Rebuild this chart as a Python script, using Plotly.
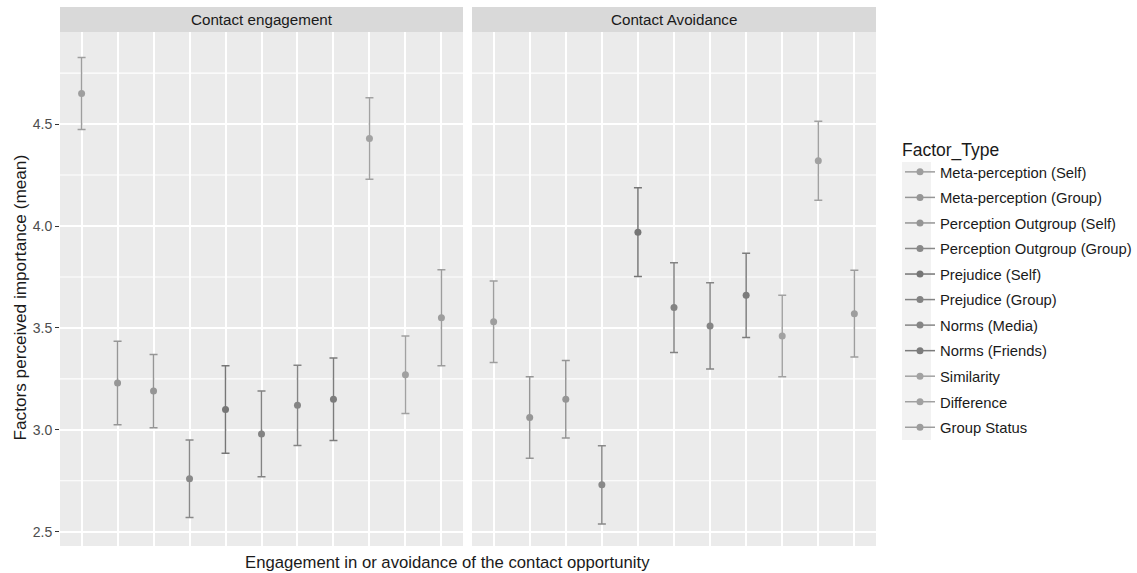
import plotly.graph_objects as go

W, H = 1137, 573

factors = ["Meta-perception (Self)", "Meta-perception (Group)", "Perception Outgroup (Self)",
           "Perception Outgroup (Group)", "Prejudice (Self)", "Prejudice (Group)",
           "Norms (Media)", "Norms (Friends)", "Similarity", "Difference", "Group Status"]
positions = list(range(1, 12))
panels = ["Contact engagement", "Contact Avoidance"]

engagement_mean = [4.65, 3.23, 3.19, 2.76, 3.10, 2.98, 3.12, 3.15, 4.43, 3.27, 3.55]
engagement_err = [0.177, 0.205, 0.180, 0.190, 0.215, 0.210, 0.197, 0.202, 0.200, 0.190, 0.235]
avoidance_mean = [3.53, 3.06, 3.15, 2.73, 3.97, 3.60, 3.51, 3.66, 3.46, 4.32, 3.57]
avoidance_err = [0.200, 0.200, 0.190, 0.192, 0.218, 0.220, 0.212, 0.207, 0.200, 0.194, 0.213]

gray_levels = [158, 150, 149, 137, 118, 131, 133, 124, 162, 161, 157]
colors = [f"rgb({g},{g},{g})" for g in gray_levels]

y_ticks = [2.5, 3.0, 3.5, 4.0, 4.5]
y_minor = [2.75, 3.25, 3.75, 4.25, 4.75]

def px_x(p):
    return p / W

def px_y(p):
    return 1 - p / H

fig = go.Figure()
for i, name in enumerate(factors):
    for k, (means, errs, xa) in enumerate([(engagement_mean, engagement_err, "x"),
                                           (avoidance_mean, avoidance_err, "x2")]):
        fig.add_trace(go.Scatter(
            x=[positions[i]], y=[means[i]], xaxis=xa, yaxis="y",
            mode="lines+markers", name=name, legendgroup=name, showlegend=(k == 0),
            marker=dict(color=colors[i], size=7),
            line=dict(color=colors[i], width=1.5),
            error_y=dict(type="data", array=[errs[i]], color=colors[i], thickness=1.5, width=4),
        ))

left = (60, 463)
right = (472, 876)
top, bottom = 32, 546

xcommon = dict(range=[0.4, 11.6], tickmode="array", tickvals=positions, showticklabels=False,
               ticks="", showgrid=True, gridcolor="white", gridwidth=1.5, zeroline=False,
               showline=False, fixedrange=True)
fig.update_layout(
    width=W, height=H,
    margin=dict(l=0, r=0, t=0, b=0),
    paper_bgcolor="white", plot_bgcolor="rgba(0,0,0,0)",
    font=dict(family="Liberation Sans, Arial, sans-serif", color="#4d4d4d"),
    xaxis=dict(domain=[px_x(left[0]), px_x(left[1])], anchor="y", **xcommon),
    xaxis2=dict(domain=[px_x(right[0]), px_x(right[1])], anchor="y", **xcommon),
    yaxis=dict(domain=[px_y(bottom), px_y(top)], range=[2.43, 4.952], tickmode="array",
               tickvals=y_ticks, ticktext=[f"{v:.1f}" for v in y_ticks], ticks="outside",
               ticklen=4, tickcolor="#333333", tickwidth=1,
               tickfont=dict(size=14, color="#4d4d4d"),
               showgrid=True, gridcolor="white", gridwidth=1.5, zeroline=False,
               anchor="x", fixedrange=True),
    showlegend=True,
    legend=dict(x=px_x(900), y=px_y(133), xanchor="left", yanchor="top",
                bgcolor="rgba(0,0,0,0)", tracegroupgap=3.3,
                title=dict(text="Factor_Type", font=dict(size=17.5, color="#1a1a1a")),
                font=dict(size=14.8, color="#1a1a1a"), itemwidth=30),
)

shapes = []
annotations = []
# panel backgrounds
for (x0, x1) in [left, right]:
    shapes.append(dict(type="rect", xref="paper", yref="paper", x0=px_x(x0), x1=px_x(x1),
                       y0=px_y(bottom), y1=px_y(top), fillcolor="#ebebeb",
                       line=dict(width=0), layer="below"))
# minor horizontal gridlines in both panels (y in data units, x spanning each panel)
for (x0, x1) in [left, right]:
    for v in y_minor:
        shapes.append(dict(type="line", xref="paper", yref="y", x0=px_x(x0), x1=px_x(x1),
                           y0=v, y1=v, line=dict(color="white", width=1.1), layer="below"))
for (x0, x1), label in zip([left, right], panels):
    shapes.append(dict(type="rect", xref="paper", yref="paper", x0=px_x(x0), x1=px_x(x1),
                       y0=px_y(top), y1=px_y(7), fillcolor="#d9d9d9", line=dict(width=0)))
    annotations.append(dict(x=px_x((x0 + x1) / 2), y=px_y(19.5), xref="paper", yref="paper",
                            text=label, showarrow=False, xanchor="center", yanchor="middle",
                            font=dict(size=15.2, color="#1a1a1a")))
# legend key background
shapes.append(dict(type="rect", xref="paper", yref="paper", x0=px_x(902), x1=px_x(931),
                   y0=px_y(440), y1=px_y(162), fillcolor="#f2f2f2", line=dict(width=0),
                   layer="below"))
annotations.append(dict(x=px_x(447), y=px_y(562), xref="paper", yref="paper",
                        text="Engagement in or avoidance of the contact opportunity",
                        showarrow=False, xanchor="center", yanchor="middle",
                        font=dict(size=16.7, color="#1a1a1a")))
annotations.append(dict(x=px_x(19.5), y=px_y(298), xref="paper", yref="paper",
                        text="Factors perceived importance (mean)", textangle=-90,
                        showarrow=False, xanchor="center", yanchor="middle",
                        font=dict(size=17.2, color="#1a1a1a")))
fig.update_layout(shapes=shapes, annotations=annotations)

fig.write_html("out.html")
